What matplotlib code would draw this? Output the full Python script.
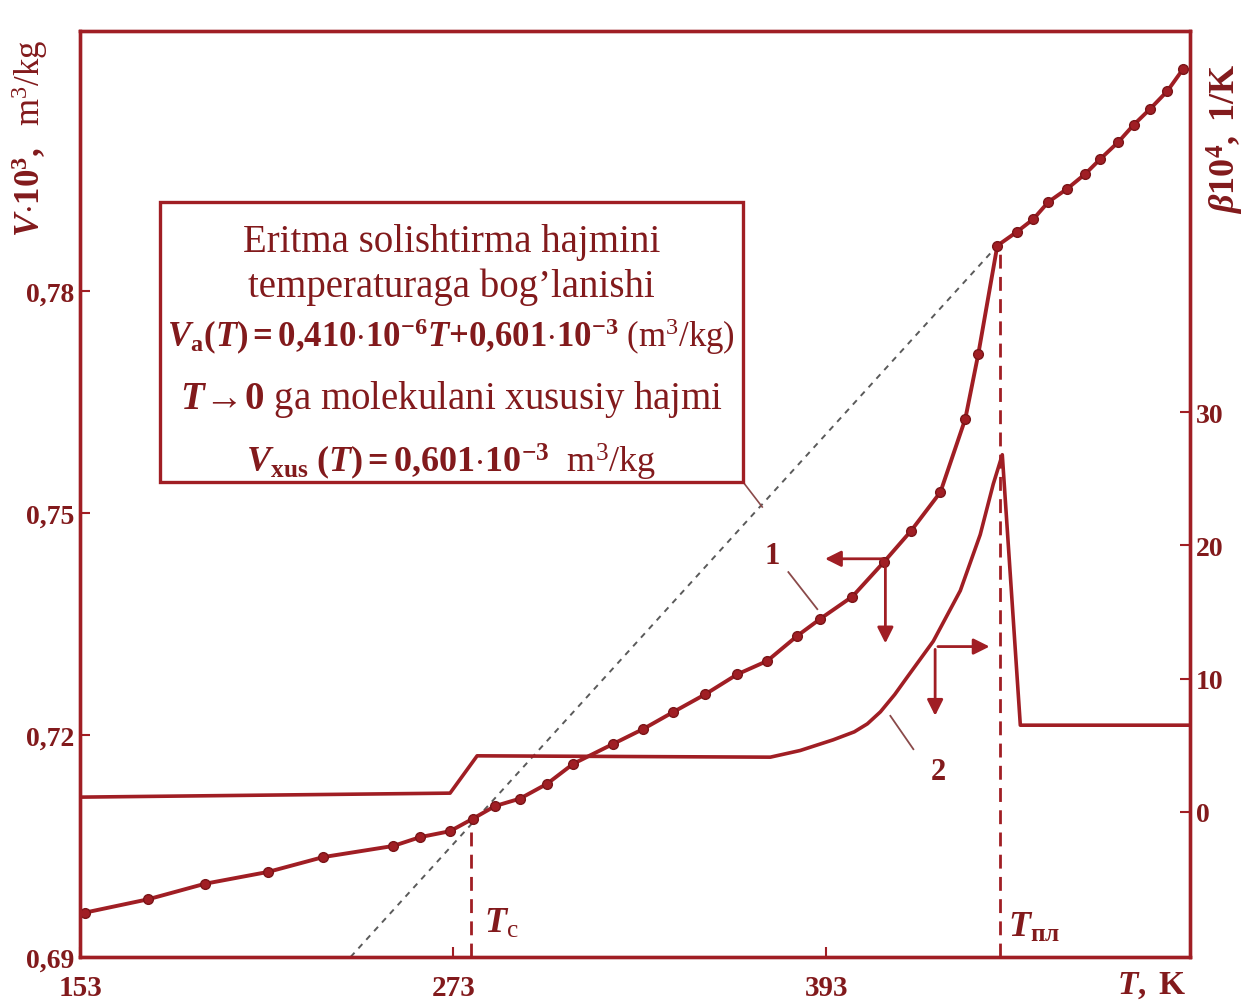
import matplotlib.pyplot as plt
from matplotlib.patches import Rectangle

plt.rcParams['font.family'] = ['Liberation Serif', 'DejaVu Serif']
plt.rcParams['mathtext.fontset'] = 'custom'
plt.rcParams['mathtext.rm'] = 'Liberation Serif'
plt.rcParams['mathtext.it'] = 'Liberation Serif:italic'
plt.rcParams['mathtext.bf'] = 'Liberation Serif:bold'
plt.rcParams['mathtext.bfit'] = 'Liberation Serif:bold:italic'

RED = '#A01E24'
DARK = '#821A1C'
GRAY = '#5a5a5a'

# curve 1: specific volume V*10^3, m3/kg (left axis)
T1 = [154.6, 174.9, 193.2, 213.5, 231.2, 253.7, 262.4, 272.0, 279.4, 286.5,
      294.5, 303.2, 311.6, 324.5, 334.1, 343.8, 354.1, 364.4, 374.0, 383.7,
      391.1, 401.4, 411.6, 420.3, 429.7, 437.7, 441.9, 448.0, 454.4, 459.6,
      464.4, 470.5, 476.3, 481.1, 486.9, 491.8, 497.2, 502.7, 507.8]
V1 = [0.6960, 0.6978, 0.6999, 0.7015, 0.7035, 0.7050, 0.7062, 0.7070, 0.7087, 0.7104,
      0.7114, 0.7134, 0.7161, 0.7188, 0.7208, 0.7231, 0.7255, 0.7282, 0.7300, 0.7334,
      0.7357, 0.7387, 0.7434, 0.7476, 0.7528, 0.7627, 0.7715, 0.7861, 0.7880, 0.7897,
      0.7920, 0.7938, 0.7958, 0.7978, 0.8001, 0.8024, 0.8046, 0.8070, 0.8100]

# curve 2: beta*10^4, 1/K (right axis)
T2 = [153, 272.0, 280.7, 375.0, 384.6, 395.2, 402.0, 406.2, 410.4, 415.0, 419.0,
      427.4, 436.1, 442.5, 446.7, 449.6, 455.4, 510]
B2 = [1.1, 1.4, 4.2, 4.1, 4.6, 5.4, 6.0, 6.6, 7.5, 8.8, 10.1,
      12.8, 16.6, 20.8, 24.6, 26.8, 6.5, 6.5]

# extrapolation line V_a(T) and characteristic temperatures
T_dash = [240.0, 448.0]
V_dash = [0.690, 0.7861]
T_c, V_c = 278.8, 0.7085
T_pl, V_pl = 449.0, 0.7857

x_ticks = [153, 273, 393]
v_ticks = [0.69, 0.72, 0.75, 0.78]
v_labels = ['0,69', '0,72', '0,75', '0,78']
b_ticks = [0, 10, 20, 30]

fig = plt.figure(figsize=(12.45, 10.04), dpi=100)
ax = fig.add_axes([0.0643, 0.0458, 0.8916, 0.9223])
ax2 = ax.twinx()

ax.set_xlim(153, 510)
ax.set_ylim(0.69, 0.8151)
ax2.set_ylim(-10.9, 58.6)

ax.plot(T_dash, V_dash, ls=(0, (3, 3)), color=GRAY, lw=1.4)
ax.plot([T_c, T_c], [0.69, V_c], ls=(0, (5, 3)), color=RED, lw=2)
ax.plot([T_pl, T_pl], [0.69, V_pl], ls=(0, (5, 3)), color=RED, lw=2)
ax.plot(T1, V1, color=RED, lw=2.8, marker='o', ms=7, mfc=RED, mec='#7a1518')
ax2.plot(T2, B2, color=RED, lw=2.6)

for a in (ax, ax2):
    for s in a.spines.values():
        s.set_color(RED)
        s.set_linewidth(2.4)

ax.set_xticks(x_ticks)
ax.set_xticklabels([str(t) for t in x_ticks])
ax.set_yticks(v_ticks)
ax.set_yticklabels(v_labels)
ax2.set_yticks(b_ticks)
ax.tick_params(axis='both', direction='in', length=7, width=1.5, color=RED,
               labelcolor=DARK, labelsize=20, pad=4)
ax.tick_params(axis='x', pad=12, labelsize=21)
ax2.tick_params(axis='y', direction='in', length=7, width=1.5, color=RED,
                labelcolor=DARK, labelsize=20, pad=4)
for lbl in ax.get_xticklabels() + ax.get_yticklabels() + ax2.get_yticklabels():
    lbl.set_fontweight('bold')

# arrows pointing curves to their axes
ap = dict(arrowstyle='-|>', color=RED, lw=2, mutation_scale=24)
ax.annotate('', xy=(391.7, 0.7438), xytext=(412.0, 0.7438), arrowprops=ap)
ax.annotate('', xy=(412.0, 0.7320), xytext=(412.0, 0.7438), arrowprops=ap)
ax2.annotate('', xy=(446.4, 12.4), xytext=(428.0, 12.4), arrowprops=ap)
ax2.annotate('', xy=(428.0, 7.0), xytext=(428.0, 12.4), arrowprops=ap)

# curve numbers with leaders
ax.text(375.6, 0.7442, '1', fontsize=22, fontweight='bold', color=DARK, ha='center', va='center')
ax.plot([380.8, 390.1], [0.7420, 0.7370], color='#8a4a4a', lw=1.3)
ax2.text(429.0, 3.0, '2', fontsize=22, fontweight='bold', color=DARK, ha='center', va='center')
ax2.plot([413.6, 421.0], [7.2, 4.7], color='#8a4a4a', lw=1.3)

ax.text(283.0, 0.6945, r'$\mathbfit{T}_{\mathrm{c}}$', fontsize=26, color=DARK, ha='left', va='center')
ax.text(451.5, 0.6940, r'$\mathbfit{T}_{\mathbf{пл}}$', fontsize=26, color=DARK, ha='left', va='center')

# info box
ax2.add_patch(Rectangle((0.072, 0.513), 0.525, 0.302, transform=ax2.transAxes,
                        fc='white', ec=RED, lw=2.4, zorder=5))
ax.plot([366.0, 372.4], [0.7543, 0.7508], color='#8a4a4a', lw=1.2)
cx = 0.3345
lines = [
    (0.773, 28, 'Eritma solishtirma hajmini'),
    (0.724, 28, 'temperaturaga bog\u2019lanishi'),
    (0.671, 25, r'$\mathbfit{V}_{\mathbf{a}}\mathbf{(}\mathbfit{T}\mathbf{)=0{,}410{\cdot}10^{-6}}'
                r'\mathbfit{T}\mathbf{+0{,}601{\cdot}10^{-3}}\ \mathrm{(m^3/kg)}$'),
    (0.603, 28, r'$\mathbfit{T}\mathbf{\!\rightarrow\!0}$ ga molekulani xususiy hajmi'),
    (0.535, 26, r'$\mathbfit{V}_{\mathbf{xus}}\ \mathbf{(}\mathbfit{T}\mathbf{)=0{,}601{\cdot}10^{-3}}'
                r'\ \ \mathrm{m^3/kg}$'),
]
for y, fs, s in lines:
    ax2.text(cx, y, s, transform=ax2.transAxes, fontsize=fs, color=DARK,
             ha='center', va='center', zorder=6)

fig.text(0.024, 0.862, r'$\mathbfit{V}\mathbf{{\cdot}10^3,}\ \ \mathrm{m^3/kg}$',
         rotation=90, fontsize=25, color=DARK, ha='center', va='center')
fig.text(0.984, 0.862, r'$\mathbfit{\beta}\mathbf{10^4,\ 1/K}$',
         rotation=90, fontsize=26, color=DARK, ha='center', va='center')
fig.text(0.925, 0.018, r'$\mathbfit{T}\mathbf{,\ K}$', fontsize=24, color=DARK,
         ha='center', va='center')

fig.savefig('out.png', dpi=100)
